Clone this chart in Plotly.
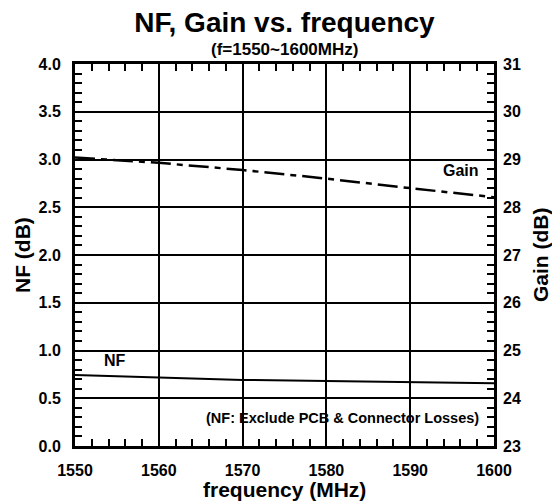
import plotly.graph_objects as go

freq = [1550, 1560, 1570, 1580, 1590, 1600]
nf_db = [0.744, 0.716, 0.692, 0.680, 0.667, 0.657]
gain_db = [29.04, 28.93, 28.78, 28.60, 28.40, 28.21]

x_range = [1550, 1600]
nf_range = [0.0, 4.0]
gain_range = [23, 31]

FONT = "Liberation Sans, Arial, sans-serif"
TICK_FONT = dict(family=FONT, size=16, color="black", weight="bold")

fig = go.Figure()
fig.add_trace(go.Scatter(x=freq, y=nf_db, mode="lines", name="NF",
                         line=dict(color="black", width=2)))
fig.add_trace(go.Scatter(x=freq, y=gain_db, mode="lines", name="Gain", yaxis="y2",
                         line=dict(color="black", width=2.5, dash="20px,6px,6px,6px")))
# invisible trace so the top axis (tick marks only) is drawn
fig.add_trace(go.Scatter(x=[freq[0]], y=[nf_db[0]], xaxis="x2", mode="markers",
                         marker=dict(opacity=0), hoverinfo="skip"))

tick_style = dict(ticks="inside", ticklen=7, tickwidth=2, tickcolor="black")
minor_style = dict(ticks="inside", ticklen=7, tickwidth=2, tickcolor="black", showgrid=False)

fig.update_layout(
    width=552, height=504,
    margin=dict(l=75, r=58, t=64, b=58),
    paper_bgcolor="white", plot_bgcolor="white",
    showlegend=False,
    font=dict(family=FONT, color="black"),
    title=dict(text="<b>NF, Gain vs. frequency</b>", x=0.5, xref="paper", xanchor="center",
               y=0.956, yanchor="middle", font=dict(size=28, family=FONT, color="black")),
    xaxis=dict(range=x_range, tickmode="linear", tick0=1550, dtick=10,
               showgrid=True, gridcolor="black", gridwidth=2, **tick_style,
               showline=True, linecolor="black", linewidth=3, mirror=True, zeroline=False,
               tickfont=TICK_FONT, ticklabelstandoff=8,
               minor=dict(dtick=2, **minor_style)),
    xaxis2=dict(range=x_range, overlaying="x", side="top", matches="x",
                tickmode="linear", tick0=1550, dtick=10, **tick_style,
                showticklabels=False, showgrid=False, zeroline=False,
                minor=dict(dtick=2, **minor_style)),
    yaxis=dict(range=nf_range, tickmode="linear", tick0=0, dtick=0.5, tickformat=".1f",
               showgrid=True, gridcolor="black", gridwidth=2, **tick_style,
               showline=True, linecolor="black", linewidth=3, mirror=True, zeroline=False,
               tickfont=TICK_FONT, ticklabelstandoff=8,
               minor=dict(dtick=0.1, **minor_style)),
    yaxis2=dict(range=gain_range, tickmode="linear", tick0=23, dtick=1,
                overlaying="y", side="right", showgrid=False, zeroline=False, **tick_style,
                showline=False, tickfont=TICK_FONT, ticklabelstandoff=8,
                minor=dict(dtick=0.2, **minor_style)),
)

def note(text, size, **kw):
    fig.add_annotation(text=f"<b>{text}</b>", showarrow=False,
                       font=dict(size=size, family=FONT, color="black"), **kw)

note("(f=1550~1600MHz)", 17, xref="paper", yref="paper", x=0.5, y=1.0,
     xanchor="center", yanchor="middle", yshift=15)
note("frequency (MHz)", 21, xref="paper", yref="paper", x=0.5, y=0.0,
     xanchor="center", yanchor="middle", yshift=-43)
note("NF (dB)", 21, xref="paper", yref="paper", x=0.0, y=0.5,
     xanchor="center", yanchor="middle", xshift=-53, textangle=-90)
note("Gain (dB)", 21, xref="paper", yref="paper", x=1.0, y=0.5,
     xanchor="center", yanchor="middle", xshift=46, textangle=-90)
note("Gain", 16, x=1596.1, y=2.88, xanchor="center", yanchor="middle")
note("NF", 16, x=1554.8, y=0.90, xanchor="center", yanchor="middle")
note("(NF: Exclude PCB & Connector Losses)", 14.5, x=1598.4, y=0.293,
     xanchor="right", yanchor="middle")

fig.write_html("out.html")
